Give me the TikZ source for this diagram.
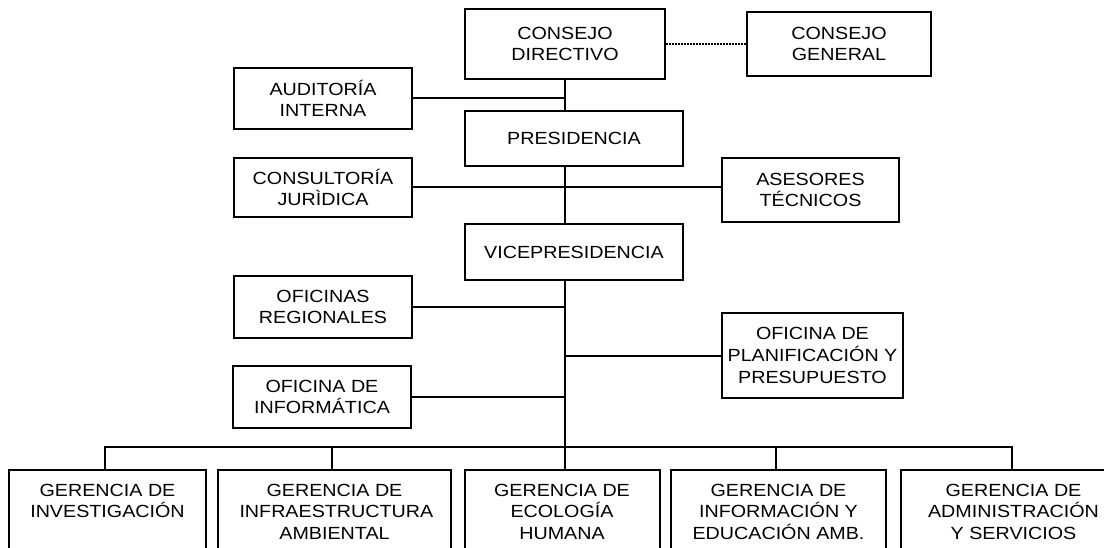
\documentclass[tikz,border=0pt]{standalone}
\usepackage{fontspec}
\setmainfont{Liberation Sans}[FakeStretch=1.12]
\usetikzlibrary{calc}

\newcommand{\gertext}[1]{\parbox[c][62pt][t]{190pt}{\centering #1}}

\begin{document}
\begin{tikzpicture}[x=1pt,y=-1pt,line width=2pt,
	unit/.style={draw,inner sep=0pt,align=center,font=\fontsize{17.6}{21.7}\selectfont},
	gerencia/.style={unit,anchor=north,minimum height=90pt},
	linkdots/.style={line width=1.6pt,dash pattern=on 1.5pt off 1.5pt}]
					\clip (0,0) rectangle (1104,548);

					\node[unit,minimum width=200pt,minimum height=70pt] (cd) at (565,44) {CONSEJO\\DIRECTIVO};
					\node[unit,minimum width=184pt,minimum height=64pt] (cg) at (839,44) {CONSEJO\\GENERAL};
					\node[unit,minimum width=178pt,minimum height=61pt] (aud) at (323,98.5) {AUDITORÍA\\INTERNA};
					\node[unit,minimum width=218pt,minimum height=55pt] (pres) at (574,138.5) {PRESIDENCIA};
					\node[unit,minimum width=178pt,minimum height=59pt] (cons) at (323,187.5) {CONSULTORÍA\\JURÌDICA};
					\node[unit,minimum width=177pt,minimum height=64pt] (ases) at (810.5,190) {ASESORES\\TÉCNICOS};
					\node[unit,minimum width=218pt,minimum height=56pt] (vice) at (574,252) {VICEPRESIDENCIA};
					\node[unit,minimum width=178pt,minimum height=62pt] (ofreg) at (323,307) {OFICINAS\\REGIONALES};
					\node[unit,minimum width=181pt,minimum height=85pt] (ofplan) at (812.5,355.5) {OFICINA DE\\PLANIFICACIÓN Y\\PRESUPUESTO};
					\node[unit,minimum width=178pt,minimum height=62pt] (ofinf) at (322,397) {OFICINA DE\\INFORMÁTICA};

					\node[gerencia,minimum width=197pt] (ginv) at (107.5,469) {\gertext{GERENCIA DE\\INVESTIGACIÓN}};
					\node[gerencia,minimum width=233pt] (ginf) at (334.5,469) {\gertext{GERENCIA DE\\INFRAESTRUCTURA\\AMBIENTAL}};
					\node[gerencia,minimum width=195pt] (geco) at (562,469) {\gertext{GERENCIA DE\\ECOLOGÍA\\HUMANA}};
					\node[gerencia,minimum width=215pt] (gedu) at (778.5,469) {\gertext{GERENCIA DE\\INFORMACIÓN Y\\EDUCACIÓN AMB.}};
					\node[gerencia,minimum width=225pt] (gadm) at (1013.5,469) {\gertext{GERENCIA DE\\ADMINISTRACIÓN\\Y SERVICIOS}};

					\coordinate (bus) at (565,447);

					\draw (cd.south) -- (cd.south |- pres.north);
					\draw (cd.south |- pres.south) -- (cd.south |- vice.north);
					\draw (cd.south |- vice.south) -- (cd.south |- geco.north);
					\draw[linkdots] (cd.east) -- (cg.west);
					\draw (aud.east) -- (aud.east -| cd.south);
					\draw (cons.east) -- (cons.east -| ases.west);
					\draw (ofreg.east) -- (ofreg.east -| cd.south);
					\draw (ofinf.east) -- (ofinf.east -| cd.south);
					\draw (ofplan.west) -- (ofplan.west -| cd.south);

					\draw ([xshift=-3pt]ginv.north) |- (bus) -| ([xshift=-2pt]gadm.north);
					\draw ([xshift=-3pt]ginf.north) -- ([xshift=-3pt]ginf.north |- bus);
					\draw ([xshift=-3pt]gedu.north) -- ([xshift=-3pt]gedu.north |- bus);
				\end{tikzpicture}
\end{document}
